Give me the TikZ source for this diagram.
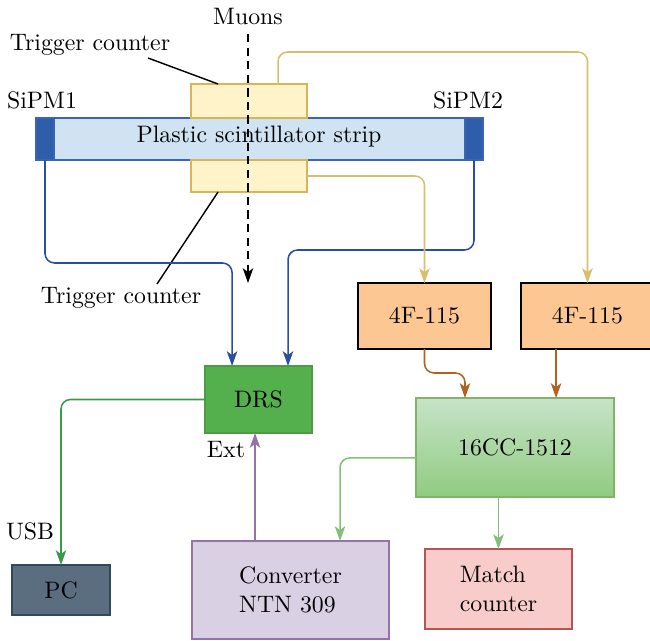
\documentclass[tikz,border=0pt]{standalone}
\usetikzlibrary{arrows.meta,fit}
\definecolor{trigfill}{HTML}{FFF3C9}
\definecolor{trigdraw}{HTML}{D6B656}
\definecolor{stripfill}{HTML}{D0E3F3}
\definecolor{stripdraw}{HTML}{3C64B4}
\definecolor{sipmfill}{HTML}{2E5EAA}
\definecolor{blueline}{HTML}{2A4EA0}
\definecolor{drsfill}{HTML}{54B04C}
\definecolor{drsdraw}{HTML}{4E9A45}
\definecolor{usbline}{HTML}{3A9A48}
\definecolor{pcfill}{HTML}{5B6E80}
\definecolor{pcdraw}{HTML}{2D4A5E}
\definecolor{convfill}{HTML}{D9D0E3}
\definecolor{convdraw}{HTML}{9673A6}
\definecolor{yelline}{HTML}{D9BE6E}
\definecolor{ffill}{HTML}{FDC793}
\definecolor{orline}{HTML}{B4601E}
\definecolor{cctop}{HTML}{C7E3C8}
\definecolor{ccbot}{HTML}{90CB80}
\definecolor{ccdraw}{HTML}{82B366}
\definecolor{grline}{HTML}{82C07A}
\definecolor{matchfill}{HTML}{F8CCCB}
\definecolor{matchdraw}{HTML}{B85450}
\begin{document}
\begin{tikzpicture}[x=0.42pt,y=-0.42pt,
  box/.style={inner sep=0pt,outer sep=0pt,line width=0.6pt,align=left},
  conn/.style={line width=0.65pt,rounded corners=4pt},
  tip/.style={-{Stealth[length=6.2pt,width=4.4pt,inset=1.6pt]}},
  arr/.style={conn,tip},
  lbl/.style={inner sep=0pt}]
\useasboundingbox (0,0) rectangle (650,641);
% strip and SiPMs
\node[box,draw=stripdraw,fill=stripfill,fit={(36,118)(483,160)}] (strip) {};
\node[lbl] (striptext) at (259,137) {Plastic scintillator strip};
\node[box,draw=stripdraw,fill=sipmfill,fit={(36,118)(54,160)}] (sipmL) {};
\node[box,draw=stripdraw,fill=sipmfill,fit={(465,118)(483,160)}] (sipmR) {};
\node[lbl] (sipmLlab) at (42,100) {SiPM1};
\node[lbl] (sipmRlab) at (468,100) {SiPM2};
% trigger counters
\node[box,draw=trigdraw,fill=trigfill,fit={(191,84)(307,118)}] (t1) {};
\node[box,draw=trigdraw,fill=trigfill,fit={(191,160)(307,192)}] (t2) {};
\node[lbl] (tc1) at (90,45) {Trigger counter};
\node[lbl] (tc2) at (121,298) {Trigger counter};
\coordinate (tc1end) at (148,58);
\coordinate (tc2end) at (157,284);
\draw[line width=0.6pt] (tc1end) -- ([xshift=-13pt]t1.north);
\draw[line width=0.6pt] (tc2end) -- ([xshift=-13pt]t2.south);
% boxes
\node[box,draw=drsdraw,fill=drsfill,fit={(205,366)(312,433)}] (drs) {};
\node[lbl] at (drs.center) {DRS};
\node[box,draw=pcdraw,fill=pcfill,fit={(12,565)(110,615)}] (pc) {};
\node[lbl] at (pc.center) {PC};
\node[box,draw=convdraw,fill=convfill,fit={(192,541)(389,639)}] (conv) {};
\node[lbl,align=left] at (conv.center) {Converter\\NTN 309};
\node[box,draw=black,fill=ffill,fit={(358,283)(491,349)}] (fA) {};
\node[lbl] at (fA.center) {4F-115};
\node[box,draw=black,fill=ffill,fit={(521,283)(654,349)}] (fB) {};
\node[lbl] at (fB.center) {4F-115};
\node[box,draw=ccdraw,top color=cctop,bottom color=ccbot,fit={(416,398)(614,497)}] (cc) {};
\node[lbl] at (cc.center) {16CC-1512};
\node[box,draw=matchdraw,fill=matchfill,fit={(425,549)(572,629)}] (match) {};
\node[lbl,align=left] at (match.center) {Match\\counter};
\node[lbl] (usb) at (30,531) {USB};
\node[lbl] (ext) at (226,450) {Ext};
\node[lbl] (muons) at (248,17) {Muons};
% connectors
\draw[arr,blueline] (sipmL.south) -- ++(0,103) -| ([xshift=-11.1pt]drs.north);
\draw[arr,blueline] (sipmR.south) -- ++(0,90) -| ([xshift=12.4pt]drs.north);
\draw[arr,usbline] (drs.west) -| (pc.north);
\draw[arr,convdraw] ([xshift=-14.9pt]conv.north) -- ([xshift=-14.9pt]conv.north |- drs.south);
\draw[arr,yelline] ([xshift=12.2pt]t1.north) -- ++(0,-32) -| (fB.north);
\draw[arr,yelline] (t2.east) -| (fA.north);
\draw[arr,orline] (fA.south) -- ++(0,24) -| ([xshift=-21pt]cc.north);
\draw[arr,orline] ([xshift=-13.2pt]fB.south) -- ([xshift=-13.2pt]fB.south |- cc.north);
\draw[arr,grline] ([yshift=-4.4pt]cc.west) -| ([xshift=20.8pt]conv.north);
\draw[arr,grline] (match.north |- cc.south) -- (match.north);
% muon path
\coordinate (mtop) at (248,34);
\coordinate (mbot) at (248,283);
\draw[line width=0.6pt,dash pattern=on 3.5pt off 2.2pt,tip] (mtop) -- (mbot);
\end{tikzpicture}
\end{document}
